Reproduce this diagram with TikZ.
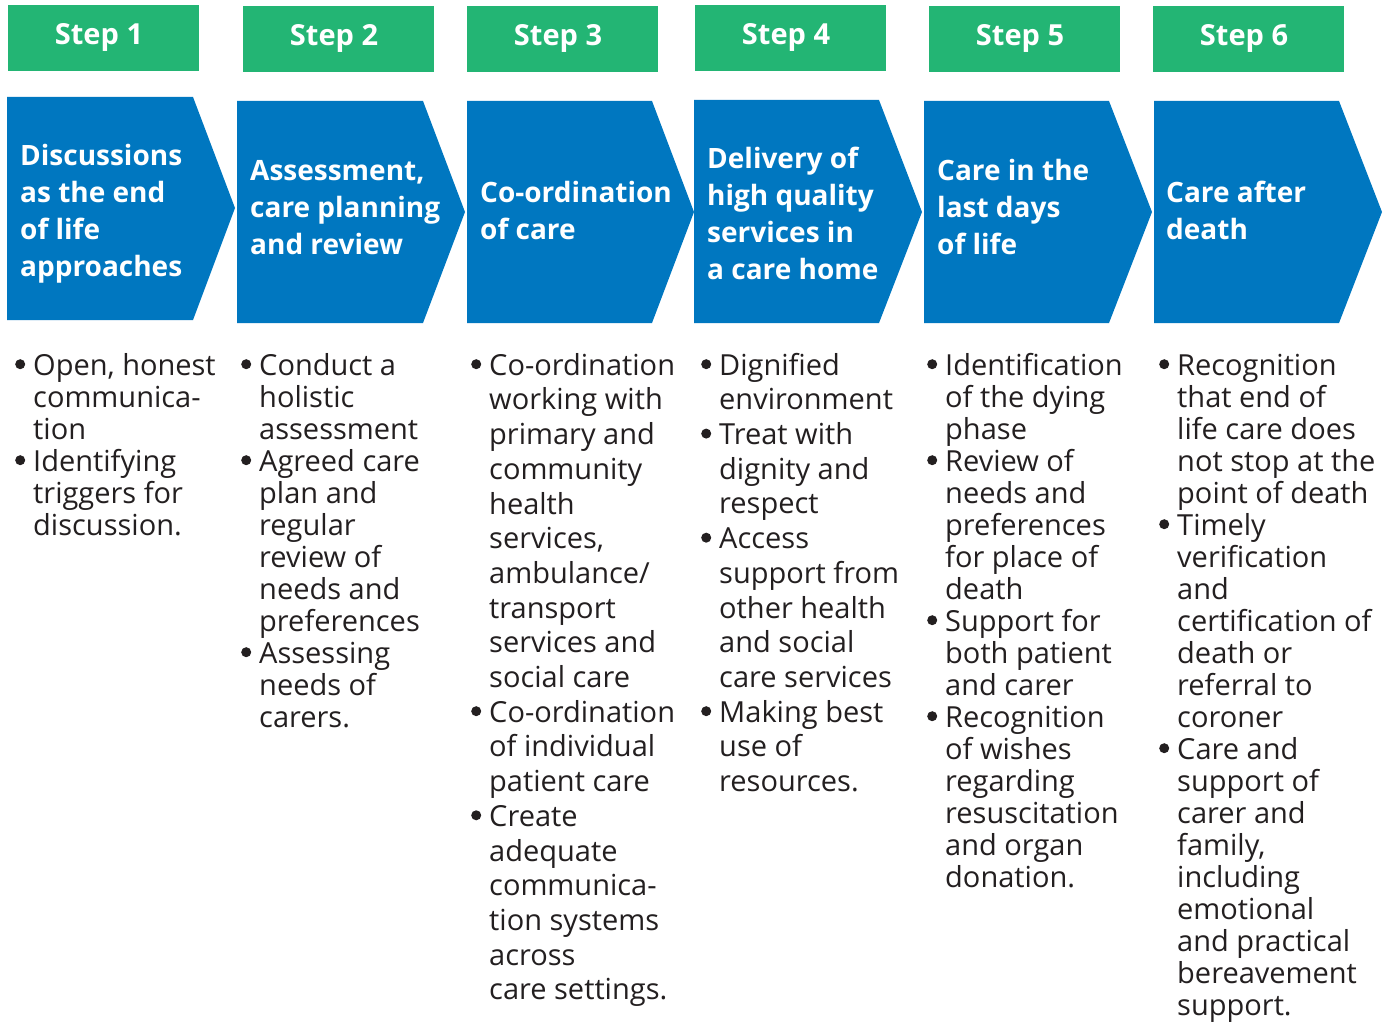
\documentclass[tikz,border=0pt]{standalone}
\usepackage{fontspec}
\setmainfont{Open Sans}
\definecolor{stepgreen}{RGB}{35,181,116}
\definecolor{chevblue}{RGB}{0,119,192}
\definecolor{bodytext}{RGB}{35,31,32}
\newcommand\bu{\makebox[0pt][r]{\tikz[baseline=0pt,x=1pt,y=1pt]\fill[bodytext] (0,11) circle (5);\hspace{8pt}}}
\tikzset{
  stepbox/.style={fill=stepgreen},
  steplabel/.style={anchor=base, text=white, font=\bfseries\fontsize{29}{34}\selectfont, inner sep=0pt},
  chev/.style={fill=chevblue},
  chevtext/.style={anchor=north west, align=left, text=white, inner sep=0pt, font=\bfseries\fontsize{28}{37}\selectfont},
  bodycol/.style={anchor=north west, align=left, text=bodytext, inner sep=0pt, font=\fontsize{29}{32}\selectfont},
  bodycolwide/.style={anchor=north west, align=left, text=bodytext, inner sep=0pt, font=\fontsize{29}{34.7}\selectfont}
}
\begin{document}
\begin{tikzpicture}[x=1pt,y=-1pt]
\useasboundingbox (0,0) rectangle (1392,1022);
\fill[white] (0,0) rectangle (1392,1022);
% green step boxes
\fill[stepbox] (8,5) rectangle (199,71);
\fill[stepbox] (243,6) rectangle (434,72);
\fill[stepbox] (467,6) rectangle (658,72);
\fill[stepbox] (695,5) rectangle (886,71);
\fill[stepbox] (929,6) rectangle (1120,72);
\fill[stepbox] (1153,6) rectangle (1344,72);
\node[steplabel] (s1) at (99,45) {Step 1};
\node[steplabel] (s2) at (334,46) {Step 2};
\node[steplabel] (s3) at (558,46) {Step 3};
\node[steplabel] (s4) at (786,45) {Step 4};
\node[steplabel] (s5) at (1020,46) {Step 5};
\node[steplabel] (s6) at (1244,46) {Step 6};
% chevrons
\fill[chev] (7,97) -- (193,97) -- (235,208) -- (193,320) -- (7,320) -- cycle;
\fill[chev] (237,101) -- (423,101) -- (465,212) -- (423,323) -- (237,323) -- cycle;
\fill[chev] (467,101) -- (652,101) -- (694,212) -- (652,323) -- (467,323) -- cycle;
\fill[chev] (694,100) -- (879,100) -- (922,212) -- (879,323) -- (694,323) -- cycle;
\fill[chev] (924,101) -- (1109,101) -- (1152,212) -- (1109,323) -- (924,323) -- cycle;
\fill[chev] (1154,101) -- (1339,101) -- (1382,212) -- (1339,323) -- (1154,323) -- cycle;
\node[chevtext] (h1) at (20,139) {\strut Discussions\\as the end\\of life\\approaches};
\node[chevtext] (h2) at (250,154) {\strut Assessment,\\care planning\\and review};
\node[chevtext] (h3) at (480,176) {\strut Co-ordination\\of care};
\node[chevtext] (h4) at (707,142) {\strut Delivery of\\high quality\\services in\\a care home};
\node[chevtext] (h5) at (937,154) {\strut Care in the\\last days\\of life};
\node[chevtext] (h6) at (1166,176) {\strut Care after\\death};
% bullet columns
\node[bodycol] (c1) at (33,352.6) {\strut\bu Open, honest\\communica-\\tion\\\bu Identifying\\triggers for\\discussion.};
\node[bodycol] (c2) at (259,352.6) {\strut\bu Conduct a\\holistic\\assessment\\\bu Agreed care\\plan and\\regular\\review of\\needs and\\preferences\\\bu Assessing\\needs of\\carers.};
\node[bodycolwide] (c3) at (489,350.7) {\strut\bu Co-ordination\\working with\\primary and\\community\\health\\services,\\ambulance/\\transport\\services and\\social care\\\bu Co-ordination\\of individual\\patient care\\\bu Create\\adequate\\communica-\\tion systems\\across\\care settings.};
\node[bodycolwide] (c4) at (719,350.7) {\strut\bu Dignified\\environment\\\bu Treat with\\dignity and\\respect\\\bu Access\\support from\\other health\\and social\\care services\\\bu Making best\\use of\\resources.};
\node[bodycol] (c5) at (945,352.6) {\strut\bu Identification\\of the dying\\phase\\\bu Review of\\needs and\\preferences\\for place of\\death\\\bu Support for\\both patient\\and carer\\\bu Recognition\\of wishes\\regarding\\resuscitation\\and organ\\donation.};
\node[bodycol] (c6) at (1177,352.6) {\strut\bu Recognition\\that end of\\life care does\\not stop at the\\point of death\\\bu Timely\\verification\\and\\certification of\\death or\\referral to\\coroner\\\bu Care and\\support of\\carer and\\family,\\including\\emotional\\and practical\\bereavement\\support.};
\end{tikzpicture}
\end{document}
